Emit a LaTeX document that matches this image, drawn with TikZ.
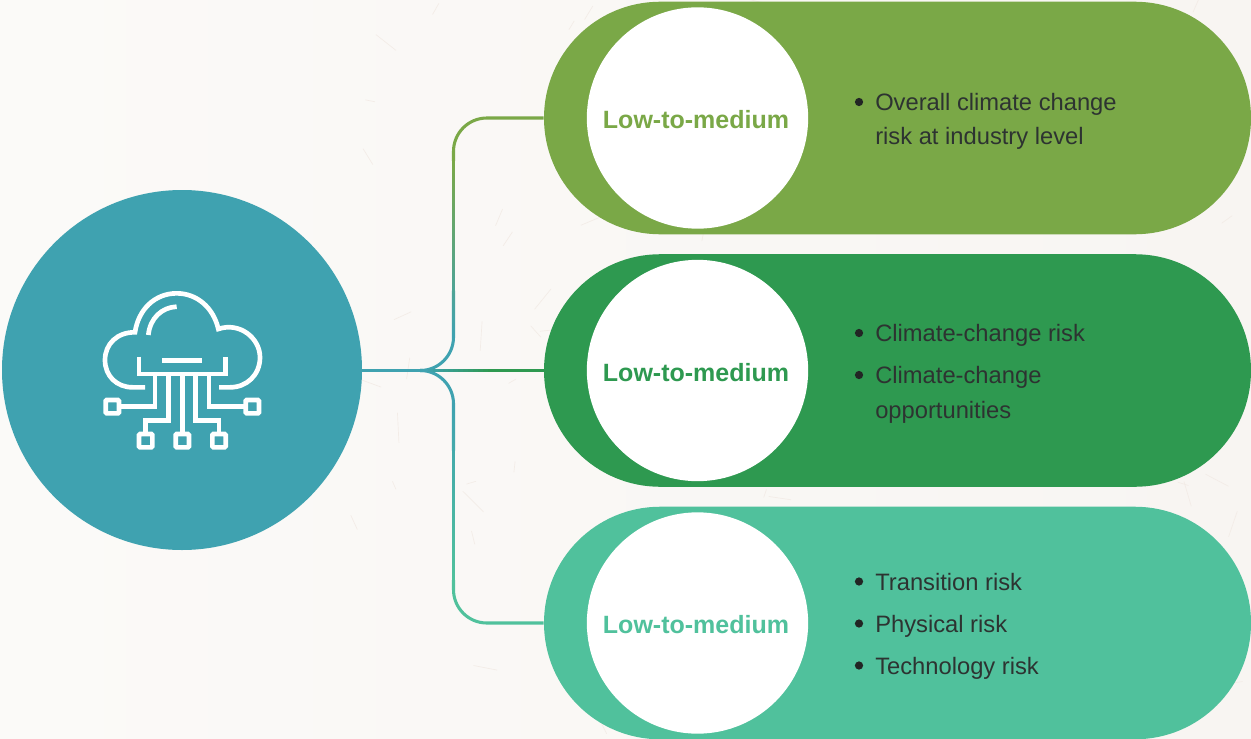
\documentclass[tikz,border=0pt]{standalone}
\usepackage{fontspec}
\setmainfont{Liberation Sans}
\definecolor{paperL}{HTML}{FBFAF8}
\definecolor{paperR}{HTML}{F8F5F2}
\definecolor{fibre}{HTML}{F3ECE7}
\definecolor{hubc}{HTML}{3FA2B0}
\definecolor{leaf}{HTML}{7AA847}
\definecolor{forest}{HTML}{2E9950}
\definecolor{mint}{HTML}{50C19C}
\definecolor{ink}{HTML}{2D3331}
\definecolor{bulletc}{HTML}{222524}
\tikzset{
  pill/.style={fill=#1,draw=none,inner sep=0pt,minimum width=530.25pt,minimum height=174.4pt,rounded corners=87.1pt},
  disc/.style={circle,fill=white,draw=none,inner sep=0pt,minimum size=166pt},
  level/.style={font=\fontsize{18.75}{22}\selectfont\bfseries,text=#1,inner sep=0pt},
  item/.style={anchor=base west,inner sep=0pt,text=ink,font=\fontsize{17.8}{20}\selectfont},
  dot/.style={circle,fill=bulletc,inner sep=0pt,minimum size=6.2pt},
  link/.style={line width=2.3pt,rounded corners=25pt},
  trunk/.style={line width=2.6pt},
  icon/.style={draw=white,line width=3.5pt,line join=miter},
  port/.style={draw=white,line width=3.5pt,fill=none,inner sep=0pt,outer sep=0pt,minimum size=10pt,rectangle,rounded corners=0.8pt},
}
\begin{document}
\begin{tikzpicture}[x=0.75pt,y=-0.75pt]
\useasboundingbox (0,0) rectangle (1251,738);
\shade[left color=paperL,right color=paperR] (0,0) rectangle (1251,738);
% paper fibres
\pgfmathsetseed{4242}
\foreach \i in {1,...,90}{
  \pgfmathsetmacro{\fx}{320+rnd*930}
  \pgfmathsetmacro{\fy}{rnd*738}
  \pgfmathsetmacro{\fa}{rnd*360}
  \pgfmathsetmacro{\fl}{8+rnd*22}
  \draw[fibre,line width=0.5pt,line cap=round] (\fx,\fy) -- ++(\fa:\fl);
}

% hub and pills
\node[circle,fill=hubc,inner sep=0pt,minimum size=270pt] (hub) at (182,370) {};
\node[pill=leaf]   (pillA) at (897.5,118) {};
\node[pill=forest] (pillB) at (897.5,370.5) {};
\node[pill=mint]   (pillC) at (897.5,623) {};
\node[disc] (discA) at (697.5,118) {};
\node[disc] (discB) at (697.5,370.5) {};
\node[disc] (discC) at (697.5,623) {};
\node[level=leaf]   (lvlA) at (696,119.7) {Low-to-medium};
\node[level=forest] (lvlB) at (696,372.7) {Low-to-medium};
\node[level=mint]   (lvlC) at (696,624.7) {Low-to-medium};

% connectors
\coordinate (elbow) at (453.5,370.5);
\coordinate (fork) at (423,370.5);
\begin{scope}
  \clip (440,100) rectangle (545,160);
  \draw[link,leaf] (fork) -- (elbow) -- (elbow |- pillA.west) -- (pillA.west);
\end{scope}
\begin{scope}
  \clip (440,580) rectangle (545,640);
  \draw[link,mint] (fork) -- (elbow) -- (elbow |- pillC.west) -- (pillC.west);
\end{scope}
\draw[link,hubc] (fork) -- (elbow) -- ([yshift=-60pt]elbow);
\draw[link,hubc] (fork) -- (elbow) -- ([yshift=60pt]elbow);
% colour runs along the connectors, in short overlapping pieces
\foreach \k in {0,...,35}{
  \pgfmathsetmacro{\m}{\k/35*100}
  \pgfmathsetmacro{\ya}{338-\k*5}
  \pgfmathsetmacro{\yb}{\ya-5.6}
  \draw[line width=2.3pt,color=leaf!\m!hubc] (elbow |- 0,\ya) -- (elbow |- 0,\yb);
  \pgfmathsetmacro{\yc}{403+\k*5}
  \pgfmathsetmacro{\yd}{\yc+5.6}
  \draw[line width=2.3pt,color=mint!\m!hubc] (elbow |- 0,\yc) -- (elbow |- 0,\yd);
}
\foreach \k in {0,...,13}{
  \pgfmathsetmacro{\m}{\k/13*100}
  \pgfmathsetmacro{\xa}{423+\k*5}
  \pgfmathsetmacro{\xb}{\xa+5.6}
  \draw[trunk,color=forest!\m!hubc] (\xa,370.5) -- (\xb,370.5);
}
\draw[trunk,forest] (493,370.5) -- (pillB.west);
\draw[trunk,hubc] (hub.east |- fork) -- (fork);

% bullets
\node[dot] (bA1) at (859,102) {};
\node[item] (tA1) at (875,110.6) {Overall climate change};
\node[item] (tA2) at (875,144.6) {risk at industry level};
\node[dot] (bB1) at (859,333) {};
\node[item] (tB1) at (875,341.4) {Climate-change risk};
\node[dot] (bB2) at (859,375) {};
\node[item] (tB2) at (875,383.4) {Climate-change};
\node[item] (tB3) at (875,418.4) {opportunities};
\node[dot] (bC1) at (859,581.5) {};
\node[item] (tC1) at (875,590) {Transition risk};
\node[dot] (bC2) at (859,623.5) {};
\node[item] (tC2) at (875,632) {Physical risk};
\node[dot] (bC3) at (859,665.5) {};
\node[item] (tC3) at (875,674) {Technology risk};

% cloud icon, coordinates from a 3x grid
\begin{scope}[shift={(80,270)},x=0.25pt,y=-0.25pt]
  \draw[icon] (195,352) -- (158,352)
     .. controls (110,352) and (75,318) .. (75,270)
     .. controls (75,222) and (112,186) .. (165,187)
     .. controls (175,118) and (225,70) .. (290,70)
     .. controls (350,70) and (400,112) .. (415,177)
     .. controls (480,155) and (540,205) .. (540,262)
     .. controls (540,315) and (500,352) .. (450,352) -- (417,352);
  \draw[icon] (205,195) .. controls (210,145) and (245,112) .. (290,110);
  \draw[icon] (177,260) -- (177,312) -- (437,312) -- (437,260);
  \draw[icon] (247,271) -- (367,271);
  \node[port] (p1) at (97,410) {};
  \node[port] (p2) at (197,512) {};
  \node[port] (p3) at (307,512) {};
  \node[port] (p4) at (417,512) {};
  \node[port] (p5) at (517,410) {};
  \draw[icon] (225,312) |- (p1.east);
  \draw[icon] (265,312) -- (265,452) -- (197,452) -- (p2.north);
  \draw[icon] (307,312) -- (p3.north);
  \draw[icon] (347,312) -- (347,452) -- (417,452) -- (p4.north);
  \draw[icon] (387,312) |- (p5.west);
\end{scope}
\end{tikzpicture}
\end{document}
